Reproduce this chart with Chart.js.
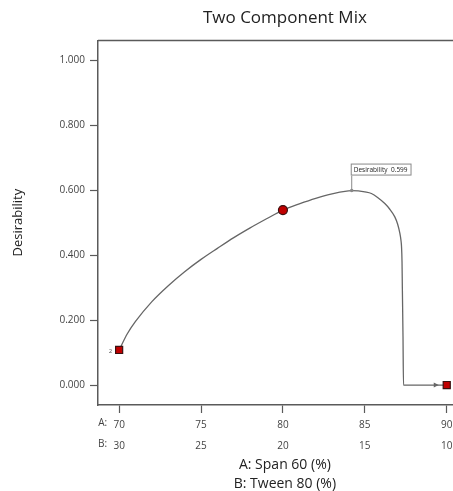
<!DOCTYPE html>
<html>
<head>
<meta charset="utf-8">
<script src="https://cdn.jsdelivr.net/npm/chart.js@4/dist/chart.umd.min.js"></script>
<style>
  html, body { margin: 0; padding: 0; background: #fff; overflow: hidden; }
  #wrap { width: 478px; height: 491px; }
</style>
</head>
<body>
<div id="wrap"><canvas id="myChart" width="478" height="491"></canvas></div>
<script>
// Desirability along the A/B mixture line (A + B = 100)
const spanA = [70, 70.5, 71, 72, 73, 74, 75, 76, 77, 78, 79, 80, 81, 82, 83, 84, 84.2, 84.6, 85, 85.4, 85.8, 86.22, 86.5, 86.83, 87.0, 87.14, 87.2, 87.24, 87.27, 87.29, 87.33, 87.36, 88, 89, 90];
const desirability = [0.108, 0.158, 0.196, 0.257, 0.306, 0.349, 0.387, 0.421, 0.454, 0.484, 0.512, 0.539, 0.558, 0.575, 0.589, 0.598, 0.599, 0.598, 0.595, 0.590, 0.577, 0.559, 0.543, 0.518, 0.496, 0.467, 0.448, 0.426, 0.380, 0.300, 0.150, 0.000, 0.000, 0.000, 0.000];

// design points shown as markers
const markerA = [70, 80, 90];
const markerD = [0.108, 0.539, 0.000];
const markerStyle = ["rect", "circle", "rect"];

// optimum flag
const peakA = 84.2;
const peakD = 0.599;

// axis ticks
const spanTicks = [70, 75, 80, 85, 90];
const tweenTicks = [30, 25, 20, 15, 10];
const yTicks = [0, 0.2, 0.4, 0.6, 0.8, 1.0];

const FONT = "'Open Sans', 'Noto Sans', sans-serif";
const AXIS = "#5a5a5a";

const extras = {
  id: "extras",
  afterDraw(chart) {
    const { ctx, chartArea, scales } = chart;
    const x = scales.x, y = scales.y;
    ctx.save();

    // top frame line
    ctx.strokeStyle = AXIS;
    ctx.lineWidth = 1.5;
    ctx.beginPath();
    ctx.moveTo(chartArea.left, chartArea.top);
    ctx.lineTo(chartArea.right, chartArea.top);
    ctx.stroke();

    // "A:" / "B:" prefixes on the first tick
    ctx.fillStyle = "#444";
    ctx.font = "10px " + FONT;
    ctx.textAlign = "right";
    ctx.textBaseline = "middle";
    const x0 = x.getPixelForValue(spanTicks[0]);
    ctx.fillText("A:", x0 - 12, 423);
    ctx.fillText("B:", x0 - 12, 444);

    // small run label beside the first marker
    ctx.font = "6px " + FONT;
    ctx.fillStyle = "#555";
    ctx.fillText("2", x.getPixelForValue(markerA[0]) - 7, y.getPixelForValue(markerD[0]) + 1);

    // arrowhead into the last marker
    const ax = x.getPixelForValue(markerA[2]) - 8;
    const ay = y.getPixelForValue(markerD[2]);
    ctx.fillStyle = "#666";
    ctx.beginPath();
    ctx.moveTo(ax, ay);
    ctx.lineTo(ax - 5, ay - 2.5);
    ctx.lineTo(ax - 5, ay + 2.5);
    ctx.closePath();
    ctx.fill();

    // optimum flag
    const px = x.getPixelForValue(peakA);
    const py = y.getPixelForValue(peakD);
    ctx.strokeStyle = "#888";
    ctx.lineWidth = 1;
    ctx.beginPath();
    ctx.moveTo(px, py);
    ctx.lineTo(px, py - 15);
    ctx.stroke();
    ctx.fillStyle = "#888";
    ctx.beginPath();
    ctx.arc(px, py, 1.8, 0, Math.PI * 2);
    ctx.fill();

    const label = "Desirability  " + peakD.toFixed(3);
    ctx.font = "6.5px " + FONT;
    const w = ctx.measureText(label).width + 6;
    const bx = px - 1, by = py - 27;
    ctx.fillStyle = "#fff";
    ctx.fillRect(bx, by, w, 12);
    ctx.strokeStyle = "#888";
    ctx.strokeRect(bx + 0.5, by + 0.5, w, 11);
    ctx.fillStyle = "#222";
    ctx.textAlign = "left";
    ctx.textBaseline = "middle";
    ctx.fillText(label, bx + 3, by + 6.5);

    ctx.restore();
  },
};

const ctx = document.getElementById("myChart");

const myChart = new Chart(ctx, {
  type: "scatter",
  data: {
    datasets: [
      {
        data: markerA.map((a, i) => ({ x: a, y: markerD[i] })),
        pointStyle: markerStyle,
        pointRadius: [5, 4.5, 5],
        pointBackgroundColor: "#c00000",
        pointBorderColor: "#3a1010",
        pointBorderWidth: 1.2,
        showLine: false,
        order: 0,
      },
      {
        data: spanA.map((a, i) => ({ x: a, y: desirability[i] })),
        showLine: true,
        borderColor: "#666",
        borderWidth: 1.3,
        pointRadius: 0,
        cubicInterpolationMode: "monotone",
        order: 1,
      },
    ],
  },
  options: {
    responsive: false,
    animation: false,
    layout: { padding: 0 },
    plugins: {
      legend: { display: false },
      tooltip: { enabled: false },
      title: {
        display: true,
        text: "Two Component Mix",
        fullSize: false,
        color: "#222",
        font: { family: FONT, size: 17, weight: "normal" },
        padding: { top: 8, bottom: 12 },
      },
    },
    scales: {
      x: {
        type: "linear",
        min: 68.71,
        max: 91.53,
        afterFit(scale) { scale.height = 86; },
        afterBuildTicks(scale) { scale.ticks = spanTicks.map((v) => ({ value: v })); },
        grid: { drawOnChartArea: false, drawTicks: true, tickLength: 8, tickColor: AXIS, tickWidth: 1.2 },
        border: { color: AXIS, width: 1.5 },
        ticks: {
          autoSkip: false,
          maxRotation: 0,
          padding: 2,
          color: "#444",
          font: { family: FONT, size: 10, lineHeight: 2.1 },
          callback: (v, i) => [String(spanTicks[i]), String(tweenTicks[i])],
        },
        title: {
          display: true,
          text: ["A: Span 60 (%)", "B: Tween 80 (%)"],
          color: "#222",
          font: { family: FONT, size: 14, lineHeight: 1.4 },
          padding: { top: 0, bottom: -3 },
        },
      },
      y: {
        type: "linear",
        min: -0.0615,
        max: 1.0615,
        afterFit(scale) { scale.width = 98; },
        afterBuildTicks(scale) { scale.ticks = yTicks.map((v) => ({ value: v })); },
        grid: { drawOnChartArea: false, drawTicks: true, tickLength: 8, tickColor: AXIS, tickWidth: 1.2 },
        border: { color: AXIS, width: 1.5 },
        ticks: {
          padding: 5,
          color: "#444",
          font: { family: FONT, size: 10 },
          callback: (v) => v.toFixed(3),
        },
        title: {
          display: true,
          text: "Desirability",
          color: "#222",
          font: { family: FONT, size: 13 },
          padding: { top: 10 },
        },
      },
    },
  },
  plugins: [extras],
});
</script>
</body>
</html>
